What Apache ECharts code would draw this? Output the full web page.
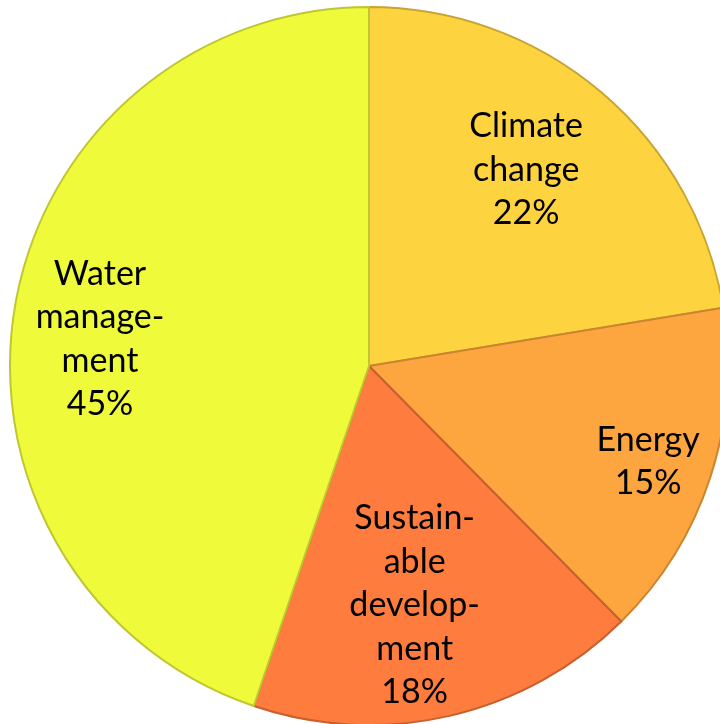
<!DOCTYPE html>
<html><head><meta charset="utf-8">
<script src="https://cdn.jsdelivr.net/npm/echarts@6/dist/echarts.min.js"></script>
<style>html,body{margin:0;padding:0;background:#fff}#c{width:720px;height:724px}</style>
</head><body><div id="c"></div>
<script>
const categories = ['Climate change', 'Energy', 'Sustainable development', 'Water management'];
const labelTexts = ['Climate\nchange', 'Energy', 'Sustain-\nable\ndevelop-\nment', 'Water\nmanage-\nment'];
const values = [22.4, 15.2, 17.6, 44.8];
const fillColors = ['#FDD43F', '#FDA63F', '#FE7C3E', '#EEFA3A'];
const borderColors = ['#C9A432', '#CC8432', '#C85F2E', '#BFC630'];
// label placement: angle (deg clockwise from 12 o'clock), radius fraction
const labelAngle = [38.7, 108.9, 169.2, 275.7];
const labelRadius = [0.70, 0.822, 0.679, 0.753];

const CX = 369, CY = 366, R = 359;
const chart = echarts.init(document.getElementById('c'), null, {renderer: 'canvas'});
chart.setOption({
  animation: false,
  series: [{
    type: 'pie',
    center: [CX, CY],
    radius: R,
    startAngle: 90,
    clockwise: true,
    data: categories.map((c, i) => ({
      name: c, value: values[i],
      itemStyle: {color: fillColors[i], borderColor: borderColors[i], borderWidth: 2}
    })),
    label: {
      show: true,
      position: 'inside',
      formatter: p => labelTexts[p.dataIndex] + '\n' + Math.round(p.value) + '%',
      fontFamily: 'Lato',
      fontSize: 34,
      lineHeight: 43.5,
      color: '#000',
      align: 'center'
    },
    labelLine: {show: false},
    labelLayout: function (p) {
      const i = p.dataIndex;
      const a = labelAngle[i] * Math.PI / 180;
      return {
        x: CX + Math.sin(a) * labelRadius[i] * R,
        y: CY - Math.cos(a) * labelRadius[i] * R,
        align: 'center',
        verticalAlign: 'middle'
      };
    },
    emphasis: {disabled: true}
  }]
});
</script></body></html>
